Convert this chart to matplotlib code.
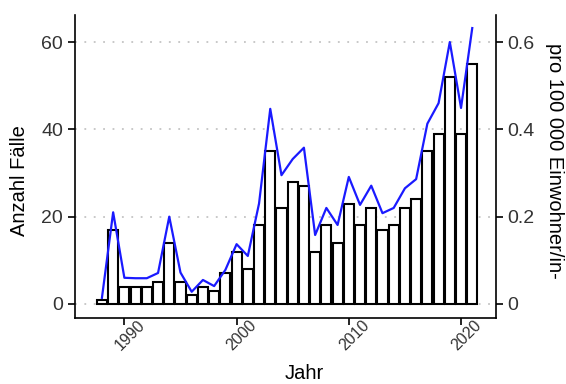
import matplotlib
matplotlib.use("Agg")
import matplotlib.pyplot as plt
import numpy as np

plt.rcParams['font.family'] = ['Liberation Sans', 'DejaVu Sans']

# Daten
jahre = np.arange(1988, 2022)
faelle = [1, 17, 4, 4, 4, 5, 14, 5, 2, 4, 3, 7, 12, 8, 18, 35, 22, 28, 27, 12,
          18, 14, 23, 18, 22, 17, 18, 22, 24, 35, 39, 52, 39, 55]
inzidenz = [0.014, 0.21, 0.06, 0.059, 0.059, 0.071, 0.20, 0.072, 0.028, 0.055,
            0.041, 0.078, 0.137, 0.11, 0.23, 0.447, 0.295, 0.332, 0.358, 0.158,
            0.22, 0.181, 0.291, 0.227, 0.271, 0.208, 0.22, 0.265, 0.286, 0.413,
            0.46, 0.60, 0.449, 0.632]
yticks = [0, 20, 40, 60]
yticks_r = [0, 0.2, 0.4, 0.6]
yticklabels_r = ['0', '0.2', '0.4', '0.6']
xticks = [1990, 2000, 2010, 2020]

tickfarbe = '#333333'

fig = plt.figure(figsize=(5.66, 3.84), dpi=100)
ax = fig.add_axes([0.1325, 0.172, 0.876 - 0.1325, 0.961 - 0.172])

ax.bar(jahre, faelle, width=0.9, color='white', edgecolor='black', linewidth=1.5, zorder=2)
for y in yticks:
    ax.axhline(y, color='#c4c4c4', linestyle=(0, (1, 4.2)), linewidth=1.3, zorder=1)

ax.set_xlim(1985.6, 2023.1)
ax.set_ylim(-3.2, 66.2)
ax.set_yticks(yticks)
ax.set_xticks(xticks)
ax.set_xticklabels([str(x) for x in xticks], rotation=45, ha='center', va='top',
                   rotation_mode='anchor')
ax.tick_params(axis='both', width=1.2, length=5, direction='out', labelcolor=tickfarbe)
ax.tick_params(axis='y', labelsize=14)
ax.tick_params(axis='x', labelsize=11.5)
ax.set_xlabel('Jahr', fontsize=14.5)
ax.set_ylabel('Anzahl Fälle', fontsize=14.5)
ax.xaxis.set_label_coords(0.544, -0.152)
ax.yaxis.set_label_coords(-0.109, 0.455)
for s in ['left', 'bottom']:
    ax.spines[s].set_linewidth(1.2)
ax.spines['top'].set_visible(False)
ax.spines['right'].set_visible(False)

ax2 = ax.twinx()
ax2.plot(jahre, inzidenz, color='#1a1aff', linewidth=1.6, zorder=3)
ax2.set_ylim(-0.032, 0.662)
ax2.set_yticks(yticks_r)
ax2.set_yticklabels(yticklabels_r)
ax2.tick_params(axis='y', labelsize=14, width=1.2, length=5, direction='out',
                labelcolor=tickfarbe)
# im Original ist die Beschriftung rechts leicht angeschnitten
ax2.set_ylabel('pro 100 000 Einwohner/in-', fontsize=14.5, rotation=270)
ax2.yaxis.set_label_coords(1.163, 0.518)
ax2.spines['right'].set_linewidth(1.2)
ax2.spines['top'].set_visible(False)
ax2.spines['left'].set_visible(False)
ax2.spines['bottom'].set_visible(False)

fig.savefig('out.png', dpi=100)
